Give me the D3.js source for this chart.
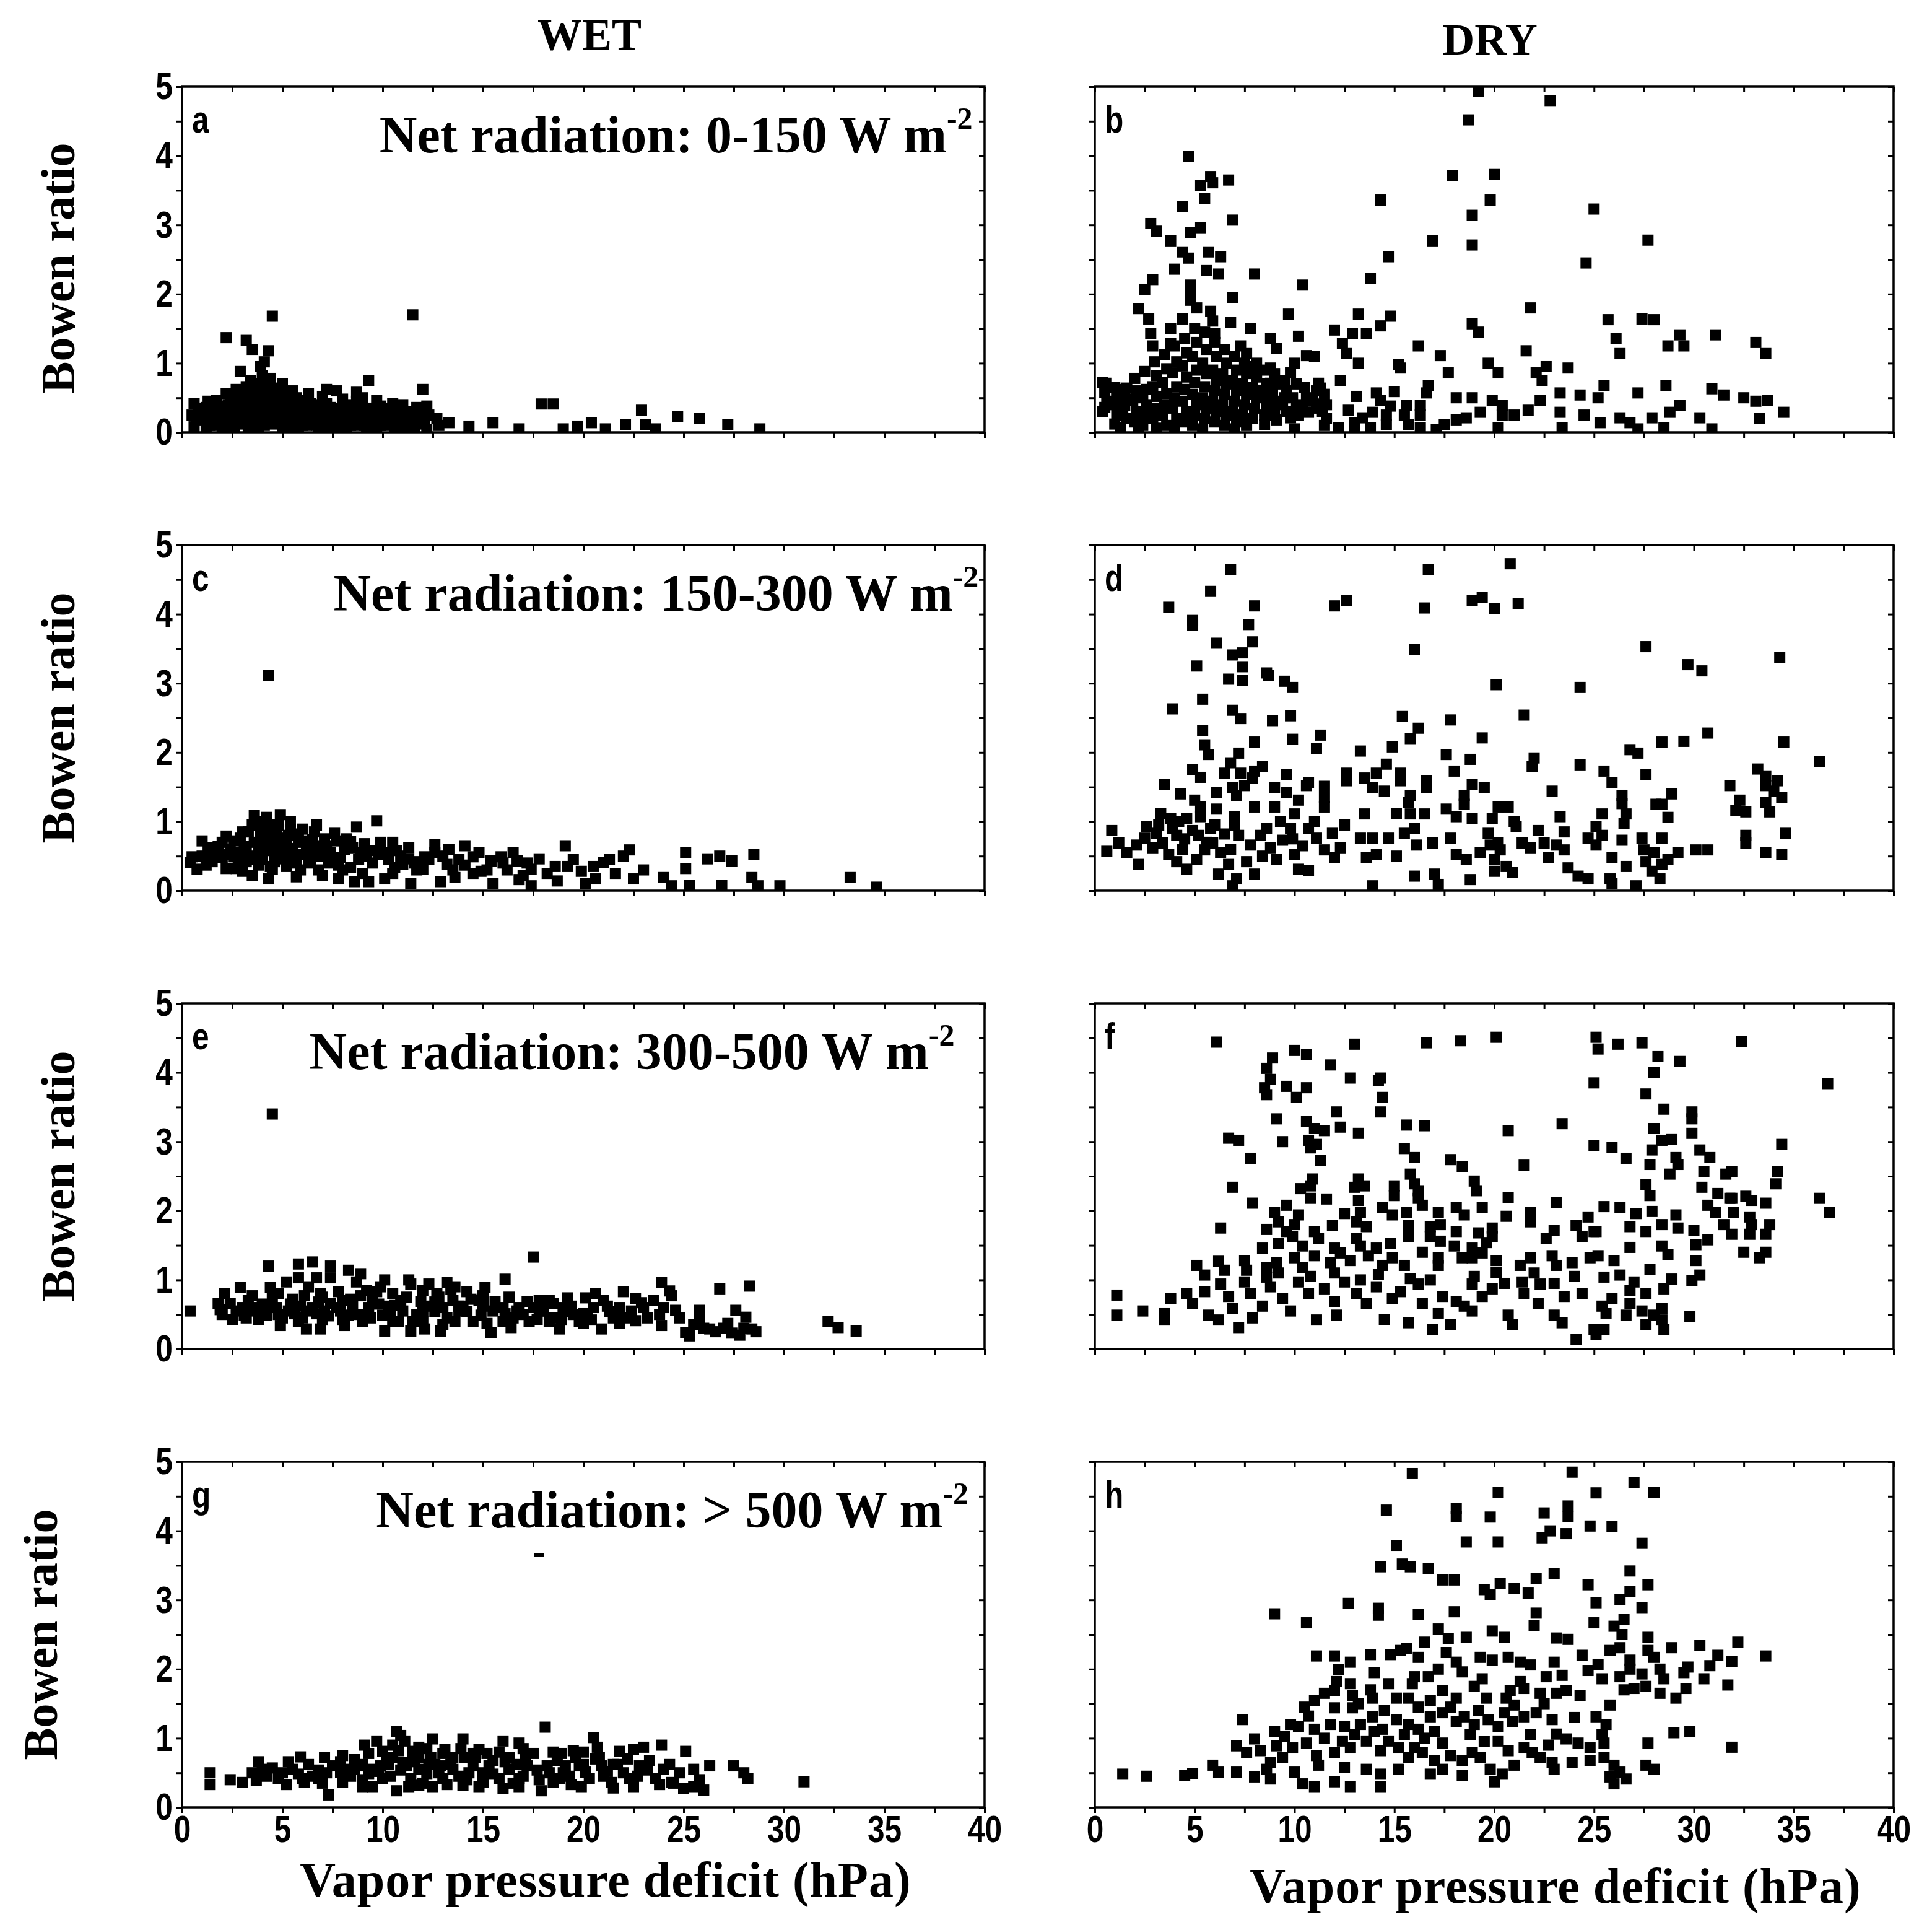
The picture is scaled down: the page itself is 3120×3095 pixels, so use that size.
<!DOCTYPE html>
<html>
<head>
<meta charset="utf-8">
<script src="https://cdn.jsdelivr.net/npm/d3@7/dist/d3.min.js"></script>
<style>
  body { margin: 0; background: #fff; }
  svg { display: block; }
</style>
</head>
<body>
<svg id="chart"></svg>
<script>
// ---- data: [vapor pressure deficit (hPa), Bowen ratio] ----
var xTickValues = [0, 5, 10, 15, 20, 25, 30, 35, 40];
var yTickValues = [0, 1, 2, 3, 4, 5];
var columnTitles = ['WET', 'DRY'];
var panelLetters = ['a', 'b', 'c', 'd', 'e', 'f', 'g', 'h'];
var radiationClasses = ['0-150', '150-300', '300-500', '> 500'];

var wet0to150 = [
  [4.5,1.68],[11.5,1.7],[2.2,1.37],[3.2,1.33],[3.5,1.2],[4.3,1.18],[4.1,1.02],[3.9,0.95],[2.9,0.88],[4.0,0.82],
  [4.4,0.78],[9.3,0.75],[12.0,0.62],[7.2,0.62],[7.7,0.6],[8.7,0.58],[5.0,0.7],[3.4,0.75],[3.8,0.7],
  [13.3,0.14],[14.3,0.09],[15.5,0.14],[16.8,0.05],[17.9,0.41],[18.5,0.41],[19.0,0.05],[19.7,0.09],[20.4,0.14],
  [21.1,0.05],[22.1,0.11],[22.9,0.32],[23.1,0.11],[23.6,0.05],[24.7,0.23],[25.8,0.2],[27.2,0.11],[28.8,0.05],
  [0.6,0.42],[0.8,0.3],[0.7,0.2],[0.6,0.08],[1.2,0.36],[1.1,0.25],[1.3,0.15],[1.2,0.04],
  [1.7,0.46],[1.8,0.31],[1.6,0.2],[1.7,0.1],[2.2,0.56],[2.3,0.4],[2.1,0.26],[2.2,0.12],
  [2.7,0.62],[2.6,0.46],[2.8,0.3],[2.7,0.16],[2.6,0.05],[3.2,0.66],[3.3,0.5],[3.1,0.36],[3.2,0.2],[3.3,0.08],
  [3.7,0.6],[3.6,0.5],[3.8,0.4],[3.7,0.28],[3.6,0.15],[3.8,0.05],[4.2,0.68],[4.3,0.58],[4.1,0.48],[4.2,0.35],[4.3,0.2],[4.1,0.1],
  [4.7,0.64],[4.8,0.54],[4.6,0.4],[4.7,0.28],[4.8,0.15],[5.2,0.56],[5.3,0.44],[5.1,0.3],[5.2,0.2],[5.3,0.1],
  [5.7,0.5],[5.8,0.4],[5.6,0.28],[5.7,0.15],[5.8,0.05],[6.2,0.46],[6.3,0.34],[6.1,0.22],[6.2,0.1],
  [6.7,0.4],[6.8,0.3],[6.6,0.2],[6.7,0.1],[6.8,0.02],[7.2,0.42],[7.3,0.3],[7.1,0.2],[7.2,0.08],
  [7.7,0.35],[7.8,0.24],[7.6,0.12],[8.2,0.4],[8.3,0.29],[8.1,0.16],[8.2,0.05],
  [8.7,0.45],[8.8,0.31],[8.6,0.2],[8.7,0.1],[9.2,0.35],[9.3,0.21],[9.1,0.1],[9.2,0.02],
  [9.7,0.46],[9.8,0.3],[9.6,0.15],[9.7,0.05],[10.2,0.35],[10.3,0.2],[10.1,0.1],
  [10.7,0.3],[10.8,0.15],[10.6,0.05],[11.2,0.25],[11.3,0.1],[11.1,0.03],
  [11.7,0.36],[11.8,0.2],[11.6,0.08],[12.2,0.38],[12.3,0.25],[12.1,0.12],[12.2,0.04],[12.7,0.2],[12.8,0.1],
  [0.9,0.35],[1.0,0.18],[1.4,0.42],[1.5,0.28],[1.4,0.1],[1.9,0.38],[2.0,0.22],[2.0,0.05],[2.4,0.48],[2.5,0.33],
  [2.4,0.2],[2.5,0.06],[2.9,0.55],[3.0,0.4],[2.9,0.25],[3.0,0.12],[3.4,0.58],[3.5,0.44],[3.4,0.3],[3.5,0.14],
  [3.9,0.55],[4.0,0.42],[3.9,0.22],[4.4,0.64],[4.5,0.46],[4.4,0.28],[4.5,0.12],[4.9,0.5],[5.0,0.36],[4.9,0.22],
  [5.0,0.06],[5.4,0.5],[5.5,0.36],[5.4,0.24],[5.5,0.08],[5.9,0.45],[6.0,0.32],[5.9,0.2],[6.0,0.1],[6.4,0.42],
  [6.5,0.26],[6.4,0.14],[6.9,0.36],[7.0,0.24],[6.9,0.12],[7.4,0.36],[7.5,0.18],[7.4,0.05],[7.9,0.3],[8.0,0.2],
  [7.9,0.08],[8.4,0.36],[8.5,0.22],[8.4,0.1],[8.9,0.38],[9.0,0.26],[8.9,0.14],[9.4,0.3],[9.5,0.16],[9.4,0.06],
  [9.9,0.38],[10.0,0.24],[9.9,0.1],[10.4,0.28],[10.5,0.14],[10.9,0.22],[11.0,0.1],[11.4,0.3],[11.5,0.16],
  [11.9,0.28],[12.0,0.15],[6.3,0.56],[7.0,0.52],[5.5,0.6],[8.0,0.48],[9.0,0.5],[10.5,0.42],[11.0,0.4],[1.3,0.45],[0.5,0.25]
];

var dry0to150 = [
  [19.2,4.93],[22.8,4.8],[18.7,4.52],[4.7,3.99],[5.8,3.7],[6.7,3.65],[5.3,3.57],[5.9,3.61],[5.5,3.38],[4.4,3.27],
  [6.9,3.07],[2.8,3.02],[3.1,2.91],[3.8,2.77],[4.8,2.89],[5.3,2.96],[4.4,2.61],[4.7,2.52],[5.7,2.61],[6.3,2.54],
  [4.0,2.36],[5.6,2.34],[6.2,2.29],[8.0,2.29],[2.9,2.21],[2.5,2.07],[4.8,2.13],[4.8,2.02],[4.8,1.91],[6.9,1.95],
  [5.1,1.8],[2.2,1.79],[2.7,1.64],[4.4,1.64],[5.8,1.75],[5.9,1.61],[6.8,1.59],[7.8,1.5],[2.8,1.43],[3.8,1.5],
  [2.9,1.25],[3.8,1.29],[6.0,1.43],[7.3,1.25],[8.8,1.36],[9.1,1.21],[10.2,1.39],[10.6,1.11],[10.4,2.13],[9.7,1.71],
  [13.2,1.71],[14.8,1.68],[14.3,1.54],[12.0,1.48],[12.9,1.43],[13.6,1.43],[12.4,1.29],[12.6,1.14],[13.2,1.0],
  [13.8,2.23],[14.7,2.54],[14.3,3.36],[16.9,2.77],[17.9,3.71],[18.9,3.14],[18.9,2.71],[19.8,3.36],[20.0,3.73],
  [21.8,1.8],[24.6,2.45],[25.0,3.23],[27.7,2.78],[18.9,1.57],[19.2,1.45],[16.2,1.25],[17.3,1.11],[15.3,0.93],
  [17.7,0.86],[19.7,1.0],[20.2,0.86],[21.6,1.18],[22.6,0.95],[23.7,0.93],[25.7,1.63],[27.4,1.64],[28.0,1.63],
  [26.1,1.36],[26.3,1.14],[29.3,1.41],[28.7,1.25],[29.5,1.25],[31.1,1.41],[33.1,1.3],[33.6,1.14],
  [22.1,0.86],[22.4,0.75],[25.5,0.68],[28.6,0.68],[30.9,0.63],[27.2,0.57],[32.5,0.5],[33.1,0.45],[33.7,0.46],
  [34.5,0.29],[30.3,0.21],[33.3,0.2],[30.9,0.05],[24.3,0.54],[25.2,0.5],[23.3,0.57],[22.3,0.46],[21.7,0.32],
  [23.3,0.29],[24.5,0.25],[25.3,0.14],[26.3,0.21],[26.8,0.14],[27.9,0.21],[28.5,0.07],[28.8,0.29],[29.3,0.39],
  [31.5,0.54],[27.2,0.05],[23.4,0.07],[20.2,0.07],[17.1,0.04],[13.0,0.05],[12.2,0.07],[7.0,0.05],[1.3,0.07],
  [18.1,0.5],[18.9,0.5],[19.9,0.46],[20.4,0.39],[20.4,0.25],[21.0,0.25],[19.3,0.29],[18.6,0.21],[18.1,0.18],
  [17.5,0.11],[16.6,0.57],[16.7,0.68],[15.0,0.59],[14.3,0.46],[14.1,0.57],[13.1,0.52],[14.8,0.38],[15.6,0.39],
  [16.3,0.39],[16.3,0.25],[15.5,0.25],[14.6,0.25],[13.9,0.29],[13.4,0.21],[12.7,0.32],[13.0,0.14],[15.7,0.11],
  [16.3,0.07],[14.6,0.11],[13.8,0.07],[15.2,0.98],[12.3,0.75],[11.2,0.71],[11.3,0.64],[11.2,0.41],[10.7,0.29],
  [10.2,0.25],[9.8,0.21],[9.1,0.18],[8.5,0.11],[9.5,0.5],[9.8,0.86],[8.8,0.93],[8.1,1.0],[7.6,1.14],[8.8,0.71],
  [8.3,0.61],[9.4,0.75],[0.55,0.71],[0.5,0.36],[1.5,0.39],[1.6,0.64],[1.1,0.54],
  [0.4,0.72],[0.5,0.58],[0.6,0.45],[0.4,0.3],[1.0,0.65],[1.1,0.5],[0.9,0.4],[1.1,0.25],[1.0,0.12],
  [1.5,0.62],[1.6,0.48],[1.4,0.35],[1.6,0.2],[2.0,0.78],[2.1,0.6],[1.9,0.46],[2.1,0.3],[2.0,0.15],[2.2,0.05],
  [2.5,0.88],[2.6,0.62],[2.4,0.5],[2.6,0.4],[2.5,0.25],[2.4,0.1],[3.0,1.02],[3.1,0.82],[2.9,0.66],[3.1,0.52],
  [3.0,0.35],[2.9,0.2],[3.1,0.06],[3.5,1.12],[3.6,0.92],[3.4,0.72],[3.6,0.56],[3.5,0.4],[3.4,0.25],[3.6,0.1],
  [4.0,1.25],[4.1,1.02],[3.9,0.86],[4.1,0.66],[4.0,0.5],[3.9,0.35],[4.1,0.2],[4.0,0.05],
  [4.5,1.36],[4.6,1.15],[4.4,0.96],[4.6,0.8],[4.5,0.62],[4.4,0.45],[4.6,0.3],[4.5,0.15],
  [5.0,1.5],[5.1,1.3],[4.9,1.1],[5.1,0.9],[5.0,0.72],[4.9,0.55],[5.1,0.4],[5.0,0.25],[4.9,0.1],
  [5.5,1.45],[5.6,1.2],[5.4,1.0],[5.6,0.85],[5.5,0.66],[5.4,0.5],[5.6,0.35],[5.5,0.2],[5.4,0.05],
  [6.0,1.3],[6.1,1.1],[5.9,0.9],[6.1,0.75],[6.0,0.6],[5.9,0.45],[6.1,0.3],[6.0,0.15],
  [6.5,1.2],[6.6,1.0],[6.4,0.85],[6.6,0.7],[6.5,0.55],[6.4,0.4],[6.6,0.25],[6.5,0.1],
  [7.0,1.1],[7.1,0.9],[6.9,0.75],[7.1,0.6],[7.0,0.45],[6.9,0.3],[7.1,0.15],
  [7.5,1.0],[7.6,0.85],[7.4,0.7],[7.6,0.55],[7.5,0.4],[7.4,0.25],[7.6,0.1],
  [8.0,0.95],[8.1,0.8],[7.9,0.65],[8.1,0.5],[8.0,0.35],[7.9,0.2],[8.5,0.9],[8.6,0.7],[8.4,0.55],[8.6,0.4],
  [8.5,0.25],[9.0,0.85],[9.1,0.7],[8.9,0.55],[9.1,0.4],[9.0,0.25],[9.5,0.75],[9.6,0.6],[9.4,0.45],[9.6,0.3],
  [10.0,1.0],[10.1,0.7],[9.9,0.5],[10.1,0.35],[10.0,0.05],[10.5,0.65],[10.6,0.5],[10.4,0.4],
  [11.0,1.1],[11.1,0.6],[10.9,0.45],[11.1,0.35],[11.5,0.55],[11.6,0.4],[11.4,0.3],[11.6,0.2],[11.5,0.1]
];

var wet150to300 = [
  [4.3,3.11],
  [1.0,0.72],[0.4,0.41],[0.75,0.31],[1.5,0.55],[2.2,0.79],[2.9,0.76],[3.6,1.09],[4.2,1.06],[4.9,1.1],[5.4,1.0],
  [6.0,0.89],[6.7,0.95],[7.6,0.83],[8.7,0.92],[9.7,1.01],[6.5,0.74],[9.9,0.7],[8.4,0.71],[12.6,0.67],[14.1,0.65],
  [19.1,0.65],[22.3,0.59],[25.1,0.55],[26.2,0.46],[26.8,0.5],[27.4,0.43],[28.5,0.52],[25.1,0.32],[24.0,0.19],
  [24.4,0.07],[25.3,0.08],[26.9,0.08],[28.4,0.19],[28.7,0.07],[29.8,0.07],[33.3,0.19],[34.6,0.05],[21.0,0.41],
  [22.0,0.5],[22.5,0.17],[21.6,0.25],[20.6,0.17],[19.9,0.28],[20.1,0.1],[19.2,0.35],[18.6,0.35],[18.7,0.14],
  [17.8,0.46],[17.4,0.31],[17.4,0.07],[16.7,0.43],[16.8,0.16],[15.9,0.49],[15.4,0.43],[15.5,0.1],[14.9,0.28],
  [14.5,0.49],[14.1,0.37],[13.6,0.19],[13.2,0.38],[12.9,0.13],[12.6,0.55],[12.1,0.49],[12.0,0.31],[11.4,0.1],
  [11.3,0.46],[10.7,0.58],[10.6,0.34],[10.1,0.17],[9.9,0.64],[9.5,0.4],[9.3,0.13],[8.9,0.55],[8.6,0.13],
  [8.4,0.34],[7.8,0.37],[7.8,0.17],[7.0,0.22],[6.9,0.55],[6.3,0.4],[5.7,0.2],[5.5,0.61],[5.0,0.46],[4.9,0.76],
  [4.5,0.31],[4.3,0.17],[4.1,0.58],[3.8,0.37],[3.5,0.22],[3.1,0.64],[3.0,0.28],[2.6,0.49],[2.2,0.32],[1.8,0.64],
  [1.2,0.37],[0.5,0.49],
  [3.3,0.85],[3.9,0.9],[4.4,0.95],[4.7,0.85],[5.3,0.8],[5.8,0.7],[6.2,0.6],[2.4,0.6],[3.6,0.7],[4.2,0.75],
  [4.8,0.65],[5.6,0.5],[6.5,0.5],[7.2,0.65],[7.6,0.45],[8.1,0.6],[8.0,0.3],[9.0,0.25],[10.3,0.45],[11.0,0.38],
  [11.7,0.3],[13.0,0.5],[14.5,0.25],[16.2,0.3],[17.0,0.22],[1.5,0.42],[2.0,0.48],[2.8,0.4],[3.4,0.5],[4.0,0.45],
  [4.6,0.5],[5.2,0.35],[5.9,0.3],[6.8,0.3],[7.3,0.4],[3.8,0.6],[4.5,0.62],[5.1,0.6],[5.7,0.42],[6.4,0.62],
  [7.0,0.5],[2.9,0.55],[3.2,0.42],[4.0,1.0],[4.6,0.42],[5.3,0.5],[9.2,0.5],[10.5,0.25],[11.8,0.42],[13.5,0.3],
  [1.0,0.5],[1.3,0.62],[1.7,0.5],[2.0,0.7],[2.3,0.52],[2.6,0.72],[2.7,0.32],[3.0,0.85],[3.2,0.58],[3.5,0.95],
  [3.7,0.45],[3.9,0.78],[4.1,0.68],[4.3,0.85],[4.4,0.35],[4.6,0.72],[4.8,0.95],[5.0,0.55],[5.2,0.72],[5.4,0.88],
  [5.5,0.4],[5.8,0.82],[6.0,0.52],[6.1,0.72],[6.4,0.42],[6.6,0.85],[6.9,0.65],[7.1,0.75],[7.4,0.55],[7.7,0.72],
  [7.9,0.48],[8.2,0.75],[8.5,0.62],[8.8,0.45],[9.1,0.68],[9.4,0.58],[9.8,0.52],[10.2,0.55],[10.5,0.7],[10.9,0.5],
  [11.3,0.62],[11.6,0.4],[12.3,0.45],[13.3,0.6],[13.8,0.45],[14.8,0.55],[15.2,0.3],[16.0,0.4],[16.5,0.55],
  [17.2,0.4],[18.2,0.25],[19.5,0.45],[20.5,0.35],[21.3,0.45],[23.0,0.3]
];

var dry150to300 = [
  [6.8,4.65],[16.7,4.65],[20.8,4.73],[5.8,4.33],[3.7,4.1],[8.0,4.12],[12.0,4.12],[12.6,4.2],[16.5,4.09],[18.9,4.2],
  [19.4,4.24],[20.0,4.08],[21.2,4.15],[4.9,3.91],[4.9,3.84],[7.7,3.85],[6.1,3.58],[7.9,3.6],[6.9,3.41],[7.4,3.44],
  [5.1,3.25],[7.4,3.24],[8.6,3.15],[8.7,3.11],[16.0,3.49],[27.6,3.53],[34.3,3.37],[29.7,3.27],[30.4,3.18],
  [6.7,3.06],[7.4,3.04],[9.5,3.03],[9.9,2.94],[20.1,2.98],[24.3,2.94],[5.4,2.77],[3.9,2.63],[6.9,2.61],[7.3,2.49],
  [8.9,2.46],[9.8,2.53],[15.4,2.52],[17.8,2.47],[21.5,2.54],[16.2,2.35],[5.4,2.32],[19.4,2.21],[30.7,2.28],
  [5.5,2.11],[8.0,2.15],[9.9,2.19],[11.3,2.25],[11.1,2.06],[13.3,2.02],[14.9,2.08],[15.8,2.2],[28.4,2.15],
  [29.5,2.16],[34.5,2.15],[36.3,1.87],[5.7,1.97],[7.2,1.99],[6.8,1.85],[4.9,1.75],[5.3,1.64],[17.6,1.97],
  [18.8,1.9],[22.0,1.92],[21.9,1.8],[24.3,1.82],[25.5,1.73],[26.8,2.04],[27.2,1.99],[27.6,1.68],[33.2,1.76],
  [33.6,1.66],[34.2,1.59],[31.8,1.52],[33.6,1.52],[34.0,1.44],[34.4,1.35],[6.5,1.7],[7.3,1.7],[8.0,1.73],
  [8.4,1.8],[9.6,1.68],[10.7,1.56],[11.5,1.51],[12.6,1.7],[12.6,1.59],[13.5,1.63],[14.1,1.7],[14.6,1.83],
  [15.3,1.7],[15.3,1.59],[13.9,1.49],[14.5,1.44],[16.6,1.59],[16.6,1.49],[15.8,1.38],[15.7,1.28],[18.0,1.73],
  [18.9,1.54],[19.5,1.49],[18.5,1.38],[18.5,1.25],[25.9,1.56],[26.4,1.38],[26.4,1.26],[28.9,1.4],[28.1,1.25],
  [28.4,1.25],[22.9,1.44],[32.3,1.31],[32.1,1.16],[32.6,1.14],[33.6,1.28],[33.8,1.14],[28.7,1.06],
  [3.5,1.54],[4.3,1.4],[5.0,1.31],[5.3,1.21],[6.1,1.42],[6.9,1.49],[7.1,1.38],[7.5,1.52],[7.9,1.63],[9.0,1.49],
  [9.6,1.42],[10.2,1.31],[10.6,1.52],[8.0,1.21],[9.0,1.21],[10.0,1.11],[11.5,1.35],[11.5,1.21],[3.3,1.12],
  [6.1,1.18],[7.0,1.07],[13.5,1.11],[15.1,1.12],[15.8,1.11],[16.5,1.11],[17.6,1.18],[18.1,1.07],[18.9,1.04],
  [20.2,1.21],[20.7,1.21],[19.9,1.04],[21.0,1.0],[21.1,0.93],[22.2,0.87],[23.3,1.07],[25.4,1.11],[26.6,1.11],
  [26.5,0.97],[25.1,0.93],[23.5,0.85],[2.6,0.93],[0.85,0.87],[1.2,0.69],[0.6,0.57],[1.6,0.55],[2.2,0.38],
  [2.1,0.66],[2.5,0.76],[3.1,0.83],[3.8,1.04],[4.2,1.0],[4.6,1.04],[5.3,1.07],[5.8,0.9],[4.9,0.87],[4.1,0.8],
  [3.4,0.69],[2.9,0.62],[3.7,0.52],[4.1,0.42],[4.6,0.31],[5.1,0.45],[5.5,0.59],[5.9,0.69],[6.2,0.24],[6.7,0.38],
  [6.9,0.07],[7.1,0.17],[7.2,0.8],[7.8,0.66],[7.6,0.42],[8.0,0.24],[8.3,0.8],[8.6,0.9],[8.8,0.62],[9.1,0.45],
  [9.4,0.73],[9.8,0.9],[10.0,0.52],[10.2,0.31],[10.7,0.9],[10.7,0.29],[11.1,0.76],[11.5,0.59],[11.9,0.83],
  [12.0,0.48],[12.3,0.62],[13.3,0.76],[13.6,0.48],[13.9,0.76],[14.1,0.52],[14.7,0.76],[13.9,0.07],[15.1,0.5],
  [15.5,0.83],[16.0,0.9],[16.1,0.66],[16.0,0.21],[16.9,0.69],[17.0,0.24],[17.2,0.09],[17.8,0.76],[18.1,0.52],
  [18.6,0.45],[18.8,0.16],[19.3,0.55],[19.7,0.83],[19.8,0.66],[20.0,0.45],[20.0,0.28],[20.2,0.69],[20.3,0.59],
  [20.6,0.35],[20.9,0.26],[21.4,0.69],[21.8,0.62],[22.5,0.69],[22.7,0.48],[23.1,0.66],[23.5,0.59],[23.7,0.33],
  [24.2,0.21],[24.7,0.17],[24.7,0.76],[25.1,0.66],[25.4,0.8],[25.8,0.17],[25.9,0.1],[25.9,0.48],[26.4,0.73],
  [26.6,0.35],[27.1,0.07],[27.4,0.76],[27.5,0.59],[27.6,0.42],[27.9,0.28],[28.3,0.17],[28.4,0.38],[28.0,0.55],
  [28.7,0.45],[29.2,0.55],[30.1,0.59],[30.7,0.59],[32.6,0.8],[32.6,0.69],[33.6,0.55],[34.4,0.52],[34.6,0.83],
  [28.4,0.76],[3.9,0.9],[4.5,0.75],[5.2,0.8],[6.0,0.95],[6.5,0.82],[6.8,0.6],[3.2,0.95],[4.4,0.6],[5.6,0.7],
  [6.3,0.55],[7.0,0.95],[8.4,0.5],[9.3,1.0],[10.4,0.65],[11.0,1.0],[12.5,0.95],[9.9,0.75]
];

var wet300to500 = [
  [4.5,3.4],[0.4,0.55],[17.5,1.33],[4.3,1.2],[5.8,1.23],[6.5,1.26],[7.4,1.2],[8.3,1.14],[8.9,1.09],[10.1,1.0],
  [11.3,1.0],[12.3,0.94],[13.2,0.96],[13.6,0.9],[15.1,0.89],[16.1,1.01],[15.0,0.77],[23.9,0.96],[24.3,0.84],
  [24.4,0.77],[26.8,0.87],[28.3,0.91],[24.6,0.56],[25.8,0.56],[27.6,0.56],[28.1,0.46],[23.8,0.5],[23.9,0.34],
  [25.1,0.24],[25.3,0.19],[25.8,0.4],[26.3,0.29],[27.2,0.37],[27.4,0.23],[27.8,0.2],[28.4,0.29],[32.2,0.4],
  [32.7,0.31],[33.6,0.26],[22.6,0.73],[22.9,0.67],[22.0,0.83],[21.8,0.37],[22.6,0.41],[21.3,0.54],[20.9,0.29],
  [20.6,0.8],[20.1,0.74],[20.0,0.37],[19.2,0.74],[19.0,0.54],[18.8,0.29],[18.5,0.66],[18.3,0.4],[17.8,0.7],
  [17.7,0.43],[17.2,0.69],[16.8,0.6],[16.4,0.31],[16.1,0.51],[15.6,0.69],[15.4,0.24],[15.2,0.37],[14.9,0.49],
  [14.2,0.83],[14.2,0.54],[13.6,0.4],[13.5,0.7],[13.4,0.86],[12.9,0.26],[12.7,0.8],[12.6,0.54],[12.1,0.29],
  [11.9,0.69],[11.4,0.94],[11.4,0.26],[10.8,0.4],[10.6,0.63],[10.1,0.26],[10.0,0.49],[9.7,0.83],[9.3,0.6],
  [8.9,0.77],[8.7,0.97],[8.3,0.49],[8.1,0.34],[7.8,0.83],[7.4,0.66],[7.4,1.03],[6.9,0.29],[6.7,0.51],[6.7,1.03],
  [6.2,0.29],[6.1,0.77],[5.8,1.03],[5.6,0.51],[5.2,0.97],[4.9,0.34],[4.5,0.74],[4.4,0.89],[4.2,0.49],[3.8,0.43],
  [3.5,0.77],[3.1,0.49],[2.9,0.89],[2.5,0.43],[2.4,0.66],[2.1,0.8],[1.9,0.57],[1.8,0.66],
  [3.0,0.6],[3.6,0.55],[4.0,0.65],[4.7,0.6],[5.3,0.55],[5.9,0.62],[6.5,0.6],[7.1,0.55],[7.7,0.6],[8.5,0.62],
  [9.0,0.5],[9.5,0.7],[10.3,0.62],[11.0,0.55],[11.7,0.5],[12.3,0.62],[13.0,0.6],[14.0,0.62],[15.0,0.62],[16.0,0.6],
  [17.0,0.5],[18.0,0.55],[19.5,0.5],[20.5,0.6],[21.0,0.7],[5.0,0.45],[6.0,0.45],[7.0,0.42],[8.0,0.42],[9.0,0.4],
  [10.5,0.4],[12.0,0.4],[13.0,0.35],[14.5,0.4],[16.5,0.45],[18.5,0.45],[19.8,0.4],[21.5,0.45],[23.0,0.6],
  [3.3,0.7],[4.8,0.8],[5.5,0.72],[6.3,0.9],[7.0,0.75],[8.0,0.7],[9.2,0.85],[10.5,0.8],[11.2,0.75],[12.0,0.85],
  [13.8,0.55],[14.8,0.7],[16.3,0.75],[17.5,0.6],[19.0,0.6],[20.2,0.5],[21.8,0.6],[22.2,0.45],[23.2,0.45],
  [2.0,0.5],[2.7,0.55],[3.2,0.45],[3.8,0.58],[4.3,0.62],[4.8,0.5],[5.4,0.65],[5.8,0.4],[6.2,0.55],[6.8,0.68],
  [7.3,0.48],[7.9,0.55],[8.4,0.72],[8.8,0.5],[9.4,0.45],[9.8,0.65],[10.4,0.52],[10.9,0.7],[11.5,0.4],[12.0,0.55],
  [12.6,0.68],[13.2,0.45],[13.8,0.62],[14.4,0.72],[15.5,0.55],[16.0,0.4],[16.7,0.55],[17.3,0.4],[17.8,0.55],
  [18.3,0.7],[18.9,0.42],[19.4,0.62],[20.0,0.52],[20.4,0.42],[21.2,0.62],[21.8,0.52],[22.4,0.55],[23.5,0.7],
  [24.0,0.6],[24.8,0.45],[25.5,0.35],[26.0,0.3],[26.6,0.25],[27.0,0.3],[28.0,0.3],[28.6,0.25],[3.5,0.6],
  [6.9,0.8],[9.9,0.9],[12.8,0.75]
];

var dry300to500 = [
  [6.1,4.44],[13.0,4.41],[16.6,4.43],[18.3,4.46],[20.1,4.51],[25.1,4.51],[25.2,4.34],[26.2,4.41],[27.4,4.43],
  [32.4,4.45],[28.2,4.23],[29.3,4.16],[8.9,4.21],[10.0,4.32],[10.6,4.26],[8.6,4.06],[11.8,4.11],[8.8,3.9],
  [8.5,3.78],[8.6,3.68],[9.6,3.8],[10.1,3.64],[10.6,3.78],[12.8,3.92],[14.3,3.92],[14.2,3.88],[14.4,3.64],
  [28.0,4.0],[25.0,3.85],[36.7,3.84],[27.6,3.69],[12.1,3.43],[9.1,3.33],[14.3,3.43],[28.5,3.47],[29.9,3.43],
  [29.9,3.33],[10.6,3.29],[11.0,3.19],[11.5,3.16],[12.3,3.21],[13.2,3.12],[15.6,3.24],[16.5,3.23],[20.7,3.16],
  [23.4,3.26],[28.0,3.19],[28.9,3.03],[29.9,3.12],[28.4,3.02],[6.7,3.05],[7.2,3.02],[9.4,3.0],[10.7,3.02],
  [11.1,2.96],[25.0,2.94],[25.9,2.92],[34.4,2.96],[27.9,2.88],[10.8,2.91],[15.5,2.9],[16.0,2.77],[30.3,2.88],
  [30.8,2.77],[7.8,2.76],[11.3,2.73],[17.8,2.74],[18.4,2.64],[21.5,2.66],[26.6,2.76],[27.8,2.67],[29.1,2.77],
  [29.2,2.67],[28.8,2.53],[30.5,2.57],[31.6,2.53],[31.9,2.57],[34.2,2.57],[34.1,2.39],[15.8,2.53],[16.0,2.39],
  [10.9,2.46],[13.2,2.46],[19.0,2.43],[6.9,2.34],[10.3,2.32],[10.8,2.36],[13.0,2.34],[13.5,2.36],[15.0,2.36],
  [16.2,2.29],[19.1,2.29],[27.6,2.38],[30.4,2.34],[31.2,2.25],[31.8,2.18],[32.6,2.21],[32.9,2.15],[33.6,2.11],
  [36.3,2.18],[36.8,1.98],[7.9,2.11],[10.8,2.18],[11.6,2.17],[13.2,2.15],[15.0,2.22],[16.2,2.18],[20.7,2.19],
  [23.1,2.12],[27.8,2.22],[30.7,2.08],[31.9,2.18],[9.0,1.98],[9.6,2.08],[10.2,1.94],[12.5,1.96],[13.3,1.98],
  [14.4,2.05],[14.9,1.94],[15.6,1.98],[16.4,2.08],[17.2,1.98],[18.1,2.05],[18.5,1.94],[19.4,2.05],[20.6,1.92],
  [21.8,1.98],[25.5,2.06],[26.3,2.05],[27.1,1.96],[27.9,1.99],[29.1,1.94],[31.1,1.98],[32.0,1.98],[32.8,1.91],
  [24.7,1.91],[6.3,1.75],[8.6,1.73],[9.2,1.84],[9.6,1.7],[10.0,1.8],[11.0,1.7],[11.9,1.79],[13.1,1.84],[13.6,1.77],
  [15.7,1.79],[16.8,1.77],[17.3,1.8],[18.1,1.7],[19.2,1.68],[19.9,1.75],[21.8,1.84],[23.0,1.72],[24.1,1.79],
  [25.0,1.7],[26.8,1.77],[27.6,1.7],[28.4,1.8],[29.2,1.75],[30.0,1.72],[31.5,1.8],[32.9,1.8],[33.8,1.8],
  [31.9,1.66],[32.8,1.66],[33.6,1.66],[8.4,1.46],[9.2,1.53],[9.9,1.63],[10.4,1.49],[11.2,1.6],[12.0,1.46],
  [13.1,1.6],[13.3,1.49],[14.1,1.46],[14.8,1.53],[15.7,1.63],[16.8,1.63],[17.3,1.56],[18.0,1.49],[18.9,1.46],
  [19.6,1.54],[19.9,1.63],[22.6,1.6],[24.4,1.63],[25.1,1.7],[26.8,1.47],[28.4,1.49],[30.1,1.51],[30.7,1.58],
  [32.5,1.4],[33.3,1.32],[33.6,1.4],[28.7,1.37],[5.1,1.21],[5.5,1.07],[6.2,1.27],[6.5,1.14],[7.5,1.28],[7.6,1.14],
  [8.6,1.18],[9.1,1.25],[10.0,1.32],[10.4,1.18],[11.0,1.35],[11.8,1.25],[12.3,1.39],[12.8,1.28],[13.7,1.35],
  [14.4,1.21],[14.9,1.32],[15.5,1.21],[16.4,1.4],[17.2,1.32],[17.2,1.21],[18.4,1.32],[18.9,1.32],[19.4,1.39],
  [20.1,1.28],[20.1,1.11],[21.3,1.21],[21.8,1.32],[22.9,1.35],[23.1,1.21],[23.9,1.25],[24.8,1.32],[25.2,1.35],
  [26.0,1.28],[30.1,1.28],[30.3,1.07],[29.9,0.99],[28.9,1.01],[28.5,0.87],[1.1,0.78],[1.1,0.49],[2.4,0.55],
  [3.8,0.73],[3.5,0.52],[3.5,0.42],[4.6,0.8],[4.9,0.66],[5.5,0.83],[5.7,0.49],[6.2,0.42],[6.3,0.94],[6.7,0.76],
  [6.9,0.59],[7.2,0.31],[7.5,0.97],[7.8,0.8],[7.9,0.45],[8.4,0.62],[8.6,1.04],[8.8,0.9],[9.4,0.73],[9.8,0.55],
  [10.2,0.97],[10.7,0.8],[11.1,0.42],[11.5,0.87],[12.0,0.69],[12.1,0.49],[12.5,0.97],[13.1,0.8],[13.6,0.66],
  [14.1,0.9],[14.5,0.43],[14.9,0.73],[15.3,0.83],[15.7,0.38],[16.2,0.94],[16.4,0.66],[16.9,0.28],[17.2,0.52],
  [17.4,0.76],[17.8,0.35],[18.1,0.69],[18.5,0.62],[18.9,0.94],[18.9,0.55],[19.4,0.76],[19.9,0.87],[20.7,0.49],
  [20.9,0.35],[21.4,0.97],[21.5,0.8],[22.2,0.66],[22.3,0.94],[23.0,0.49],[23.4,0.38],[23.5,0.76],[24.1,0.14],
  [24.4,0.8],[25.0,0.28],[25.1,0.21],[25.5,0.28],[25.4,0.62],[25.6,0.52],[25.9,0.73],[25.5,1.04],[26.3,1.07],
  [26.6,0.49],[26.8,0.66],[27.0,0.97],[27.4,0.55],[27.6,0.8],[27.6,0.35],[28.0,0.49],[28.4,0.42],[28.5,0.28],
  [28.4,0.59],[29.8,0.47],[28.9,1.01],[9.2,1.1],[10.8,1.05],[12.0,1.1],[13.3,1.0],[14.2,1.08],[15.8,1.02],
  [16.8,1.0],[19.0,1.05],[20.5,0.95],[22.0,1.1],[23.0,0.95],[24.0,1.05],[26.8,0.85],[27.8,1.15]
];

var wet500plus = [
  [1.4,0.5],[1.4,0.33],[2.4,0.4],[3.0,0.36],[3.8,0.66],[3.7,0.39],[4.5,0.57],[5.3,0.66],[5.2,0.33],[5.9,0.73],
  [6.1,0.36],[6.8,0.54],[7.1,0.72],[7.3,0.18],[7.9,0.66],[8.0,0.36],[8.6,0.69],[9.0,0.3],[9.1,0.9],[9.7,0.96],
  [10.0,0.81],[10.7,1.1],[10.9,1.04],[11.1,0.96],[11.5,0.81],[11.8,0.87],[12.5,0.99],[13.1,0.84],[14.0,0.99],
  [14.8,0.84],[16.0,0.96],[16.8,0.93],[18.1,1.16],[18.9,0.78],[19.6,0.72],[20.5,1.01],[20.7,0.87],[21.8,0.81],
  [22.5,0.84],[23.0,0.87],[23.9,0.9],[25.1,0.81],[20.9,0.6],[21.4,0.36],[22.3,0.42],[23.2,0.54],[23.8,0.33],
  [24.4,0.36],[25.0,0.27],[20.1,0.51],[19.4,0.33],[19.1,0.6],[18.5,0.36],[17.9,0.24],[17.7,0.54],[17.1,0.72],
  [16.8,0.42],[16.1,0.66],[16.0,0.27],[15.5,0.48],[15.2,0.78],[15.0,0.36],[14.5,0.6],[14.1,0.72],[13.8,0.45],
  [13.2,0.33],[12.9,0.6],[12.5,0.3],[12.4,0.72],[12.2,0.48],[11.6,0.66],[11.3,0.3],[10.9,0.54],[10.7,0.24],
  [10.5,0.72],[10.0,0.42],[9.9,0.6],[9.5,0.3],[9.3,0.48],[8.8,0.6],[8.4,0.45],[7.9,0.51],
  [25.5,0.55],[25.5,0.3],[26.0,0.25],[26.3,0.6],[27.5,0.6],[28.0,0.5],[28.2,0.42],[31.0,0.37],[24.5,0.35],
  [25.8,0.4],[22.0,0.5],[21.0,0.45],[24.0,0.55],
  [4.2,0.45],[5.0,0.5],[5.8,0.48],[6.5,0.45],[7.2,0.5],[8.2,0.55],[9.5,0.55],[10.3,0.62],[11.0,0.65],[11.8,0.55],
  [12.6,0.62],[13.5,0.55],[14.3,0.5],[15.3,0.6],[16.3,0.55],[17.2,0.6],[18.2,0.6],[19.0,0.5],[19.8,0.6],[20.6,0.7],
  [21.5,0.62],[22.8,0.6],[10.5,0.9],[11.5,0.72],[12.2,0.85],[13.5,0.72],[14.6,0.72],[15.8,0.8],[17.0,0.85],
  [18.5,0.8],[20.0,0.8],[13.0,0.42],[14.8,0.3],[16.5,0.35],[18.8,0.42],[22.5,0.3],
  [3.5,0.5],[4.0,0.55],[4.8,0.42],[5.5,0.55],[6.3,0.62],[6.8,0.42],[7.5,0.6],[8.0,0.75],[8.6,0.55],[9.0,0.62],
  [9.3,0.78],[9.8,0.52],[10.2,0.7],[10.4,0.45],[10.8,0.82],[11.2,0.6],[11.4,0.42],[11.8,0.72],[12.0,0.35],
  [12.3,0.62],[12.8,0.5],[13.0,0.78],[13.4,0.62],[13.9,0.85],[14.2,0.4],[14.5,0.78],[15.0,0.5],[15.5,0.68],
  [15.8,0.42],[16.3,0.72],[16.7,0.62],[17.0,0.45],[17.5,0.78],[17.8,0.4],[18.3,0.5],[18.7,0.68],[19.3,0.45],
  [19.5,0.82],[20.0,0.62],[20.3,0.42],[20.8,0.72],[21.2,0.52],[21.7,0.62],[22.2,0.7],[22.7,0.45],[23.3,0.68],
  [23.6,0.42],[24.3,0.62],[24.8,0.5],[21.5,0.28],[19.9,0.3],[16.8,0.3],[14.0,0.32],[11.8,0.32],[9.0,0.4],
  [7.0,0.35],[6.0,0.42]
];

var wetDash = [[17.8, 3.65]];

var dry500plus = [
  [15.9,4.83],[23.9,4.85],[27.0,4.7],[20.2,4.56],[25.1,4.55],[28.0,4.56],[14.6,4.3],[18.1,4.32],[18.1,4.21],
  [19.8,4.2],[22.5,4.26],[23.7,4.36],[23.7,4.21],[24.8,4.07],[25.9,4.06],[22.8,4.0],[23.6,3.96],[22.4,3.9],
  [18.6,3.84],[20.2,3.84],[15.1,3.79],[27.4,3.82],[14.3,3.48],[15.4,3.52],[15.8,3.48],[16.7,3.45],[17.4,3.29],
  [18.0,3.29],[22.1,3.31],[23.0,3.38],[26.8,3.42],[19.5,3.15],[20.3,3.24],[21.0,3.17],[21.7,3.1],[19.8,3.08],
  [24.7,3.22],[27.7,3.22],[26.3,3.01],[26.8,3.12],[27.4,2.89],[25.1,2.96],[12.7,2.95],[9.0,2.8],[10.6,2.67],
  [14.2,2.88],[14.2,2.78],[16.2,2.79],[18.0,2.83],[22.1,2.81],[22.0,2.63],[25.0,2.67],[26.0,2.62],[26.5,2.72],
  [26.4,2.5],[17.2,2.58],[17.7,2.44],[18.6,2.46],[19.9,2.55],[20.5,2.46],[23.1,2.45],[23.7,2.43],[27.7,2.46],
  [32.2,2.39],[33.6,2.19],[16.5,2.39],[15.6,2.3],[15.3,2.27],[13.8,2.21],[11.1,2.19],[12.0,2.19],[12.8,2.1],
  [12.2,1.99],[12.1,1.82],[14.8,2.21],[16.2,2.17],[17.6,2.24],[18.1,2.1],[19.3,2.17],[19.9,2.13],[20.7,2.17],
  [21.3,2.1],[21.8,2.06],[18.4,1.96],[19.4,1.86],[24.4,2.2],[25.8,2.27],[26.3,2.31],[26.8,2.13],[27.7,2.27],
  [28.0,2.17],[28.9,2.31],[30.3,2.34],[31.2,2.2],[31.9,2.11],[25.2,2.07],[24.7,1.98],[25.4,1.86],[22.6,1.89],
  [23.4,1.91],[26.3,1.89],[26.8,2.0],[27.4,1.93],[28.3,2.0],[28.5,1.86],[29.7,2.03],[30.5,1.86],[31.7,1.77],
  [27.0,1.72],[27.6,1.75],[28.3,1.65],[29.6,1.72],[29.1,1.58],[21.3,1.82],[21.5,1.72],[22.3,1.65],[23.1,1.65],
  [23.6,1.69],[24.3,1.62],[16.0,1.89],[16.7,1.89],[15.9,1.79],[14.7,1.79],[13.8,1.7],[12.8,1.79],[12.0,1.69],
  [12.9,1.62],[13.9,1.58],[12.9,1.44],[11.0,1.55],[12.0,1.44],[15.1,1.58],[15.7,1.58],[16.8,1.55],[17.4,1.69],
  [18.1,1.58],[19.6,1.58],[20.6,1.58],[20.8,1.69],[21.0,1.48],[20.5,1.37],[25.8,1.48],[25.1,1.31],[25.6,1.2],
  [29.0,1.08],[29.8,1.1],[31.9,0.87],[27.7,0.93],[28.0,0.55],[7.4,1.27],[10.7,1.32],[10.2,1.17],[11.0,1.13],
  [11.8,1.2],[12.5,1.17],[13.3,1.2],[13.9,1.31],[14.4,1.13],[15.1,1.27],[15.7,1.2],[16.2,1.13],[16.8,1.31],
  [17.4,1.37],[18.1,1.24],[18.5,1.31],[19.0,1.2],[19.7,1.27],[20.2,1.17],[20.9,1.24],[21.5,1.31],[22.1,1.37],
  [22.9,1.27],[23.1,1.06],[23.6,0.99],[24.2,0.93],[24.8,0.86],[25.4,1.05],[25.5,0.93],[9.0,1.1],[8.0,0.99],
  [7.1,0.89],[7.6,0.79],[8.3,0.82],[9.1,0.89],[9.5,1.03],[9.9,0.86],[10.6,0.93],[11.1,0.75],[12.0,0.79],
  [12.4,0.96],[12.8,0.86],[13.6,0.96],[14.3,0.82],[14.7,0.96],[15.2,0.86],[15.7,0.72],[16.0,0.86],[16.4,0.79],
  [17.0,0.68],[17.4,0.93],[17.8,0.75],[18.4,0.68],[18.9,0.79],[19.3,0.72],[20.2,0.96],[20.7,0.82],[21.0,0.61],
  [21.5,0.86],[21.9,0.79],[22.3,0.72],[22.9,0.65],[23.0,0.55],[23.9,0.65],[24.8,0.68],[25.5,0.72],[26.0,0.61],
  [26.3,0.51],[25.8,0.44],[26.0,0.34],[26.6,0.41],[27.6,0.61],[1.4,0.48],[2.6,0.45],[4.5,0.46],[4.9,0.49],
  [5.9,0.61],[6.2,0.51],[7.1,0.51],[8.0,0.44],[8.6,0.55],[8.8,0.41],[8.8,0.65],[9.4,0.72],[10.0,0.51],
  [10.4,0.34],[11.0,0.3],[11.2,0.61],[12.0,0.37],[12.5,0.58],[12.8,0.3],[13.6,0.55],[14.3,0.48],[14.3,0.3],
  [15.2,0.55],[16.8,0.48],[17.4,0.55],[18.4,0.46],[19.8,0.55],[20.0,0.37],[20.4,0.48],
  [13.0,1.05],[14.0,1.1],[15.5,1.05],[17.0,1.1],[18.8,1.05],[19.5,0.95],[21.8,1.05],[16.5,1.0],[11.5,1.0],
  [13.2,1.5],[14.5,1.4],[16.2,1.45],[17.8,1.45],[19.2,1.4],[22.5,1.5],[24.0,1.3],[26.5,1.7],[11.5,1.65],
  [14.0,1.95],[17.2,2.0],[19.0,1.75],[23.0,2.1],[29.5,1.95],[30.8,2.05],[10.5,1.45],[9.8,1.2],[22.7,0.9]
];

// ---- layout ----
var width = 3120, height = 3095;
var colRange = [[294, 1590], [1768, 3058]];
var rowTop = [140, 880, 1620, 2360];
var plotH = 558;
var marker = 18;
var narrow = 'scale(0.8,1)';
var serif = '"Liberation Serif", "Times New Roman", serif';
var sans = '"Liberation Sans Narrow", "Liberation Sans", Arial, sans-serif';

var panels = [
  { row: 0, col: 0, points: wet0to150, noteX: 39.4 },
  { row: 0, col: 1, points: dry0to150 },
  { row: 1, col: 0, points: wet150to300, noteX: 39.7 },
  { row: 1, col: 1, points: dry150to300 },
  { row: 2, col: 0, points: wet300to500, noteX: 38.5 },
  { row: 2, col: 1, points: dry300to500 },
  { row: 3, col: 0, points: wet500plus, noteX: 39.2, dashes: wetDash },
  { row: 3, col: 1, points: dry500plus }
];

var svg = d3.select('#chart')
  .attr('width', width)
  .attr('height', height)
  .attr('viewBox', [0, 0, width, height]);

svg.append('rect').attr('width', width).attr('height', height).attr('fill', '#fff');

// column titles
svg.selectAll('text.coltitle').data(columnTitles).join('text')
  .attr('class', 'coltitle')
  .attr('x', (d, i) => i === 0 ? 952 : 2406)
  .attr('y', (d, i) => i === 0 ? 80 : 88)
  .attr('text-anchor', 'middle')
  .attr('font-family', serif)
  .attr('font-weight', 'bold')
  .attr('font-size', 72)
  .text(d => d);

panels.forEach(function (p, i) {
  var x = d3.scaleLinear().domain([0, 40]).range(colRange[p.col]);
  var y = d3.scaleLinear().domain([0, 5]).range([rowTop[p.row] + plotH, rowTop[p.row]]);
  var x0 = colRange[p.col][0], x1 = colRange[p.col][1];
  var y0 = rowTop[p.row], y1 = rowTop[p.row] + plotH;
  var g = svg.append('g');
  var clipId = 'clip' + i;

  g.append('clipPath').attr('id', clipId)
    .append('rect')
    .attr('x', x0).attr('y', y0)
    .attr('width', x1 - x0).attr('height', y1 - y0);

  // points
  g.append('g')
    .attr('clip-path', 'url(#' + clipId + ')')
    .selectAll('rect')
    .data(p.points)
    .join('rect')
    .attr('x', d => x(d[0]) - marker / 2)
    .attr('y', d => y(d[1]) - marker / 2)
    .attr('width', marker)
    .attr('height', marker)
    .attr('fill', '#000');

  if (p.dashes) {
    g.append('g').selectAll('rect').data(p.dashes).join('rect')
      .attr('x', d => x(d[0]) - 8)
      .attr('y', d => y(d[1]) - 3)
      .attr('width', 16)
      .attr('height', 6)
      .attr('fill', '#000');
  }

  // ticks every 2.5 hPa and 0.5 ratio; the frame is drawn on its own
  var xMinor = d3.range(0, 40.01, 2.5);
  var yMinor = d3.range(0, 5.01, 0.5);
  function styleAxis(sel) {
    sel.select('.domain').remove();
    sel.selectAll('.tick line').attr('stroke', '#000').attr('stroke-width', 3);
  }
  g.append('g').attr('transform', 'translate(0,' + y1 + ')')
    .call(d3.axisBottom(x).tickValues(xMinor).tickSize(9).tickFormat(''))
    .call(styleAxis);
  g.append('g').attr('transform', 'translate(0,' + y0 + ')')
    .call(d3.axisTop(x).tickValues(xMinor).tickSize(-9).tickFormat(''))
    .call(styleAxis);
  g.append('g').attr('transform', 'translate(' + x0 + ',0)')
    .call(d3.axisLeft(y).tickValues(yMinor).tickSize(9).tickFormat(''))
    .call(styleAxis);
  g.append('g').attr('transform', 'translate(' + x1 + ',0)')
    .call(d3.axisRight(y).tickValues(yMinor).tickSize(-9).tickFormat(''))
    .call(styleAxis);

  g.append('rect')
    .attr('x', x0).attr('y', y0)
    .attr('width', x1 - x0).attr('height', y1 - y0)
    .attr('fill', 'none')
    .attr('stroke', '#000')
    .attr('stroke-width', 3.5);

  // y tick labels, axis title and radiation class on the left column only
  if (p.col === 0) {
    var yLab = g.append('g').attr('transform', 'translate(' + x0 + ',0)')
      .call(d3.axisLeft(y).tickValues(yTickValues).tickSize(0).tickPadding(19).tickFormat(d3.format('d')));
    yLab.select('.domain').remove();
    yLab.selectAll('text')
      .attr('transform', narrow)
      .attr('font-family', sans)
      .attr('font-weight', 'bold')
      .attr('font-size', 62)
      .attr('fill', '#000');

    g.append('text')
      .attr('transform', 'translate(' + (p.row === 3 ? 92 : 120) + ',' + ((y0 + y1) / 2 + (p.row === 0 ? 14 : 0)) + ') rotate(-90)')
      .attr('text-anchor', 'middle')
      .attr('font-family', serif)
      .attr('font-weight', 'bold')
      .attr('font-size', 78)
      .text('Bowen ratio');

    var note = g.append('text')
      .attr('x', x(p.noteX))
      .attr('y', y0 + 106)
      .attr('text-anchor', 'end')
      .attr('font-family', serif)
      .attr('font-weight', 'bold')
      .attr('font-size', 84);
    note.append('tspan').text('Net radiation: ' + radiationClasses[p.row] + ' W m');
    note.append('tspan')
      .attr('dy', -38)
      .attr('font-size', 50)
      .text('-2');
  }

  // panel letter
  g.append('text')
    .attr('transform', 'translate(' + (x0 + 16) + ',' + (y0 + 74) + ') ' + narrow)
    .attr('font-family', sans)
    .attr('font-weight', 'bold')
    .attr('font-size', 62)
    .text(panelLetters[i]);

  // x tick labels and axis title on the bottom row
  if (p.row === 3) {
    var xLab = g.append('g').attr('transform', 'translate(0,' + y1 + ')')
      .call(d3.axisBottom(x).tickValues(xTickValues).tickSize(0).tickPadding(12).tickFormat(d3.format('d')));
    xLab.select('.domain').remove();
    xLab.selectAll('text')
      .attr('transform', narrow)
      .attr('font-family', sans)
      .attr('font-weight', 'bold')
      .attr('font-size', 62)
      .attr('fill', '#000');

    g.append('text')
      .attr('x', p.col === 0 ? 978 : 2512)
      .attr('y', p.col === 0 ? 3062 : 3072)
      .attr('text-anchor', 'middle')
      .attr('font-family', serif)
      .attr('font-weight', 'bold')
      .attr('font-size', 80)
      .attr('letter-spacing', 1)
      .text('Vapor pressure deficit (hPa)');
  }
});
</script>
</body>
</html>
